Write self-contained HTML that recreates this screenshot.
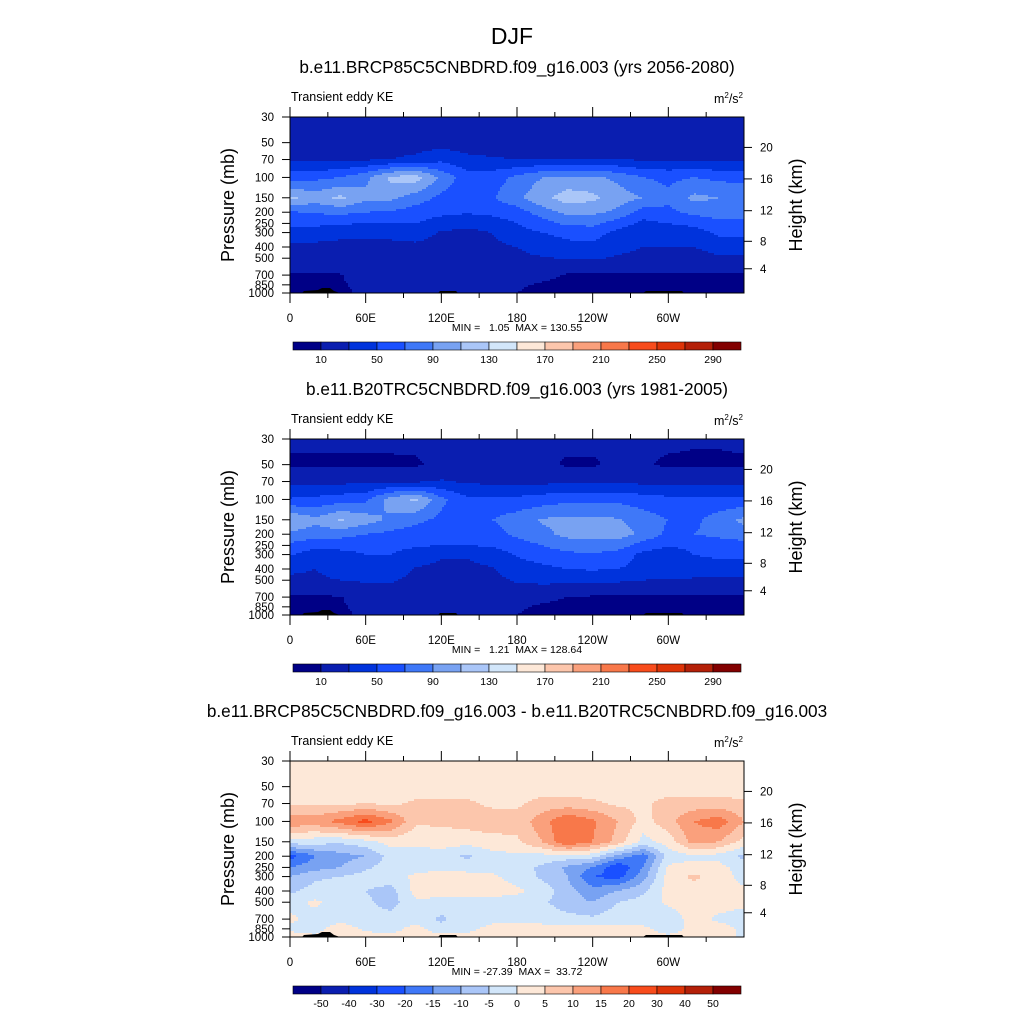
<!DOCTYPE html>
<html><head><meta charset="utf-8">
<style>
body{margin:0;background:#fff;}
svg text{font-family:"Liberation Sans",sans-serif;fill:#000;white-space:pre;}
</style></head>
<body>
<svg id="chart" xmlns="http://www.w3.org/2000/svg" width="1024" height="1024" viewBox="0 0 1024 1024">
<rect width="1024" height="1024" fill="#fff"/>
<text x="512" y="44" font-size="23" text-anchor="middle">DJF</text>
</svg>
<script>
const levelsP = [30,50,70,100,150,200,250,300,400,500,700,850,1000];
const lons = [0,20,40,60,80,100,120,140,160,180,200,220,240,260,280,300,320,340,360];
const xTickLabels = ["0","60E","120E","180","120W","60W"];
const pTickLabels = [30,50,70,100,150,200,250,300,400,500,700,850,1000];
const heightLabels = ["20","16","12","8","4"];
const heightPress = [55,103,194,357,617];
const colors = ["#000086","#0a1eb0","#0033dc","#1a50ff","#3f78f8","#78a2f2","#aac6f8","#d2e6fa","#fde8d8","#fcc6ac","#faa07c","#f8784a","#f84c1c","#de3408","#b42008","#820000"];
const absLevels = [10,30,50,70,90,110,130,150,170,190,210,230,250,270,290];
const absLabels = ["10","50","90","130","170","210","250","290"];
const diffLevels = [-50,-40,-30,-20,-15,-10,-5,0,5,10,15,20,30,40,50];
const diffLabels = ["-50","-40","-30","-20","-15","-10","-5","0","5","10","15","20","30","40","50"];

const futureKE = [
[20,20,20,20,20,20,20,20,20,20,20,20,20,20,20,20,20,20,20],
[20,20,20,20,20,20,22,20,20,20,20,20,20,20,20,20,20,20,20],
[25,25,26,28,30,35,45,35,32,30,30,30,30,30,28,28,28,27,26],
[62,65,70,85,115,120,85,60,60,75,90,95,95,85,70,65,70,65,62],
[115,100,115,95,95,80,65,55,68,85,105,120,115,100,90,75,95,90,90],
[68,72,75,70,68,60,55,52,55,60,80,95,95,85,60,65,75,80,78],
[55,55,52,50,50,50,40,35,40,50,60,75,75,60,45,50,55,65,65],
[45,40,35,35,35,40,28,25,30,45,50,55,58,45,32,40,40,55,55],
[25,25,25,25,25,25,22,22,25,30,40,45,45,35,30,30,30,35,35],
[22,22,22,22,22,22,22,22,22,25,28,32,32,28,25,25,25,28,28],
[8,8,9,20,22,22,20,20,20,18,15,8,8,8,7,8,7,6,6],
[6,6,8,15,20,20,18,18,18,12,8,6,6,6,6,6,6,6,6],
[5,5,5,15,18,15,15,12,12,10,6,5,5,5,5,5,5,5,5]];

const histKE = [
[14,14,14,14,14,14,14,14,14,14,14,14,14,14,14,14,12,12,14],
[7,7,7,7,7,8,14,14,14,14,14,8,8,14,12,7,7,7,7],
[25,25,25,25,25,27,32,27,25,25,25,25,25,25,25,25,25,25,25],
[52,55,60,65,100,115,75,55,55,55,60,65,65,65,60,55,55,55,55],
[110,95,112,100,85,75,65,60,70,80,92,95,95,92,80,70,65,80,95],
[85,80,78,70,65,60,55,55,60,75,85,95,95,100,85,65,70,75,80],
[65,55,55,55,55,52,50,50,52,60,70,80,85,80,60,52,55,60,62],
[52,40,45,50,50,42,32,32,40,52,60,65,68,60,45,38,50,55,55],
[32,30,35,38,40,28,25,25,28,40,45,50,52,50,45,40,38,38,38],
[28,28,30,32,32,25,25,25,25,32,35,35,35,33,30,28,28,28,28],
[8,8,9,20,22,22,20,20,20,18,14,10,8,7,7,7,7,7,7],
[6,6,8,15,20,20,18,18,18,12,8,6,6,6,6,6,6,6,6],
[5,5,5,15,18,15,15,12,12,10,6,5,5,5,5,5,5,5,5]];

const diffKE = [
[2,2,2,2,2,2,2,2,2,2,2,2,2,2,2,2,2,2,2],
[2,2,2,2,2,2,2,2,2,2,2,2,2,2,2,2,2,2,2],
[4,4,4,5,4,6,6,6,4,4,7,7,6,4,4,7,7,7,6],
[14,13,17,22,16,6,6,7,8,7,13,20,16,10,3,8,15,18,10],
[-2,-3,-4,-2,2,1,2,2,3,4,10,20,15,8,-2,2,12,10,3],
[-22,-15,-12,-10,-3,-2,-2,-6,-2,-1,-2,-2,-3,-12,-18,-3,-1,-2,-6],
[-15,-12,-10,-6,-2,-2,-1,-2,-2,-3,-6,-11,-15,-25,-15,1,2,2,-3],
[-10,-6,-5,-3,-2,1,2,2,1,-2,-6,-10,-20,-22,-12,2,6,3,-2],
[-6,-3,-2,-5,-7,2,3,3,2,1,-2,-8,-13,-10,-6,2,3,2,1],
[-2,1,-3,-4,-7,-1,-2,-2,-2,-2,-4,-8,-10,-5,-3,1,2,2,1],
[1,-2,-2,-3,-3,-2,-6,-2,-1,-1,-2,-3,-4,-2,-2,-3,2,-1,-2],
[-1,-2,3,-1,-2,2,-3,-1,1,1,2,2,2,1,1,-2,1,2,-1],
[2,1,3,2,2,2,2,1,2,2,2,2,2,1,2,1,2,2,-1]];

const NS = "http://www.w3.org/2000/svg";
const svg = document.getElementById('chart');
const X0 = 290, W = 454, H = 176;
function el(tag, attrs, parent) {
  const e = document.createElementNS(NS, tag);
  for (const k in attrs) e.setAttribute(k, attrs[k]);
  (parent || svg).appendChild(e);
  return e;
}
function xOf(lon) { return X0 + lon / 360 * W; }
function yOf(p, top) { return top + Math.log(p / 30) / Math.log(1000 / 30) * H; }
function colorIdx(v, lev) { let i = 0; while (i < lev.length && v >= lev[i]) i++; return i; }
function sample(grid, lon, p) {
  let j = Math.min(Math.floor(lon / 20), lons.length - 2);
  const tx = (lon - lons[j]) / 20;
  const lp = Math.log(p);
  let i = 0;
  while (i < levelsP.length - 2 && Math.log(levelsP[i + 1]) < lp) i++;
  const ty = Math.max(0, Math.min(1, (lp - Math.log(levelsP[i])) / (Math.log(levelsP[i + 1]) - Math.log(levelsP[i]))));
  const a = grid[i][j] * (1 - tx) + grid[i][j + 1] * tx;
  const b = grid[i + 1][j] * (1 - tx) + grid[i + 1][j + 1] * tx;
  return a * (1 - ty) + b * ty;
}

function panel(cfg) {
  const top = cfg.top;
  const g = el('g', {});
  
  
  const t = el('text', {x: 517, y: top - 44, 'font-size': 17.2, 'text-anchor': 'middle'}, g);
  t.textContent = cfg.title;
  
  
  const st = el('text', {x: 291, y: top - 16, 'font-size': 12.5}, g);
  st.textContent = 'Transient eddy KE';
  
  
  const un = el('text', {x: 743, y: top - 14, 'font-size': 12.5, 'text-anchor': 'end'}, g);
  un.innerHTML = 'm<tspan font-size="8" dy="-5">2</tspan><tspan dy="5">/s</tspan><tspan font-size="8" dy="-5">2</tspan>';
  
  
  const fg = el('g', {'shape-rendering': 'crispEdges'}, g);
  
  
  const cw = 2, ch = 2;
  for (let yy = 0; yy < H; yy += ch) {
    const p = 30 * Math.exp((yy + ch / 2) / H * Math.log(1000 / 30));
    let runStart = 0, runC = -1;
    const flush = (end) => {
      if (runC < 0) return;
      const r = el('rect', {x: X0 + runStart, y: top + yy, width: end - runStart, height: Math.min(ch, H - yy), fill: colors[runC]}, fg);
      
      
    };
    for (let xx = 0; xx < W; xx += cw) {
      const c = colorIdx(sample(cfg.data, Math.min(359.9, (xx + cw / 2) / W * 360), p), cfg.levels);
      if (c !== runC) { flush(xx); runStart = xx; runC = c; }
    }
    flush(W);
  }
  const tr = el('path', {d: `M${X0+12},${top+H} L${X0+14},${top+H-2} L${X0+28},${top+H-3} L${X0+32},${top+H-5} L${X0+40},${top+H-5} L${X0+44},${top+H-2} L${X0+50},${top+H} Z M${X0+148},${top+H} L${X0+150},${top+H-2} L${X0+166},${top+H-2} L${X0+168},${top+H} Z M${X0+353},${top+H} L${X0+356},${top+H-2} L${X0+392},${top+H-2} L${X0+394},${top+H} Z`, fill: '#000'}, g);
  
  
  const fr = el('rect', {x: X0, y: top, width: W, height: H, fill: 'none', stroke: '#000', 'stroke-width': 1}, g);
  
  
  for (let k = 0; k < 12; k++) {
    const x = xOf(k * 30), major = k % 2 === 0;
    el('line', {x1: x, x2: x, y1: top + H, y2: top + H + (major ? 10 : 5), stroke: '#000'}, g);
    el('line', {x1: x, x2: x, y1: top, y2: top - (major ? 10 : 5), stroke: '#000'}, g);
    if (major) {
      const lt = el('text', {x: x, y: top + H + 29, 'font-size': 11.5, 'text-anchor': 'middle'}, g);
      lt.textContent = xTickLabels[k / 2];
      
      
    }
  }
  pTickLabels.forEach(p => {
    const y = yOf(p, top);
    el('line', {x1: X0 - 8, x2: X0, y1: y, y2: y, stroke: '#000'}, g);
    const lt = el('text', {x: X0 - 16, y: y + 4, 'font-size': 11.5, 'text-anchor': 'end'}, g);
    lt.textContent = p;
    
    
  });
  heightPress.forEach((p, i) => {
    const y = yOf(p, top);
    el('line', {x1: X0 + W, x2: X0 + W + 8, y1: y, y2: y, stroke: '#000'}, g);
    const lt = el('text', {x: X0 + W + 16, y: y + 4, 'font-size': 11.5}, g);
    lt.textContent = heightLabels[i];
    
    
  });
  const yl = el('text', {x: 0, y: 0, 'font-size': 18, 'text-anchor': 'middle', transform: `translate(234,${top + 88}) rotate(-90)`}, g);
  yl.textContent = 'Pressure (mb)';
  
  
  const yr = el('text', {x: 0, y: 0, 'font-size': 18, 'text-anchor': 'middle', transform: `translate(802,${top + 88}) rotate(-90)`}, g);
  yr.textContent = 'Height (km)';
  
  
  const mm = el('text', {x: 517, y: top + H + 38, 'font-size': 10.5, 'text-anchor': 'middle'}, g);
  mm.textContent = cfg.minmax;
  
  
  const cb = el('g', {}, g);
  
  
  const cy = top + H + 49, bw = 28;
  colors.forEach((c, i) => {
    const r = el('rect', {x: 293 + i * bw, y: cy, width: bw, height: 8, fill: c, stroke: '#000', 'stroke-width': 0.6}, cb);
    
    
  });
  cfg.levels.forEach((lv, i) => {
    if (cfg.labelEvery === 2 && i % 2 !== 0) return;
    const lt = el('text', {x: 293 + (i + 1) * bw, y: cy + 21, 'font-size': 10.5, 'text-anchor': 'middle'}, cb);
    lt.textContent = cfg.labels[cfg.labelEvery === 2 ? i / 2 : i];
    
    
  });
}

panel({name: 'panel-future', top: 117, data: futureKE, levels: absLevels, labels: absLabels, labelEvery: 2,
  title: 'b.e11.BRCP85C5CNBDRD.f09_g16.003 (yrs 2056-2080)', minmax: 'MIN =   1.05  MAX = 130.55'});
panel({name: 'panel-historical', top: 439, data: histKE, levels: absLevels, labels: absLabels, labelEvery: 2,
  title: 'b.e11.B20TRC5CNBDRD.f09_g16.003 (yrs 1981-2005)', minmax: 'MIN =   1.21  MAX = 128.64'});
panel({name: 'panel-difference', top: 761, data: diffKE, levels: diffLevels, labels: diffLabels, labelEvery: 1,
  title: 'b.e11.BRCP85C5CNBDRD.f09_g16.003 - b.e11.B20TRC5CNBDRD.f09_g16.003', minmax: 'MIN = -27.39  MAX =  33.72'});
</script>
</body></html>
